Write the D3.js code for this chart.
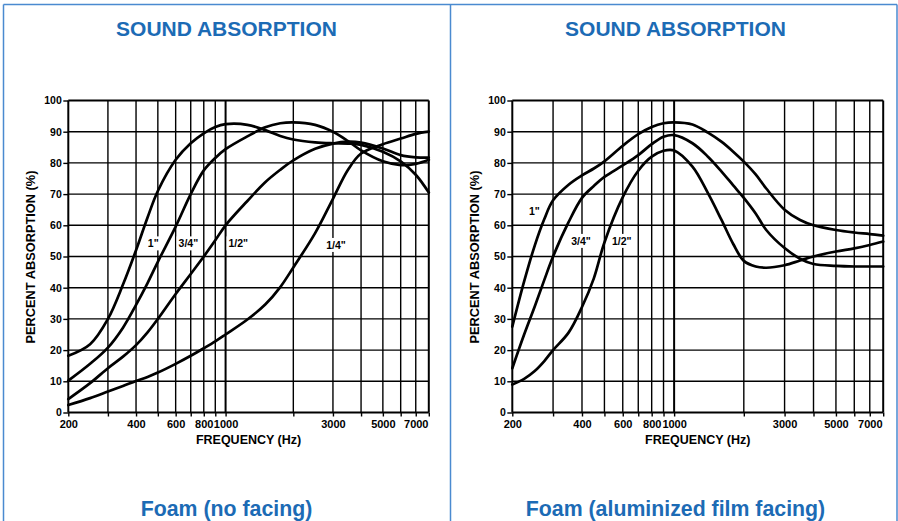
<!DOCTYPE html>
<html>
<head>
<meta charset="utf-8">
<script src="https://cdn.jsdelivr.net/npm/d3@7"></script>
<style>
  html, body { margin: 0; padding: 0; background: #fff; }
  svg { display: block; }
  text { font-family: "Liberation Sans", Arial, Helvetica, sans-serif; }
</style>
</head>
<body>
<svg id="chart" width="898" height="521"></svg>
<script>
// ---------------- DATA ----------------
const gridFreqs = [200, 300, 400, 500, 600, 700, 800, 900, 1000, 2000, 3000, 4000, 5000, 6000, 7000, 8000];
const labeledFreqs = [200, 400, 600, 800, 1000, 3000, 5000, 7000];
const percentTicks = [0, 10, 20, 30, 40, 50, 60, 70, 80, 90, 100];

const chartTitle = "SOUND ABSORPTION";
const xTitle = "FREQUENCY (Hz)";
const yTitle = "PERCENT ABSORPTION (%)";
const panelNames = ["Foam (no facing)", "Foam (aluminized film facing)"];
const seriesNamesNoFacing = ['1"', '3/4"', '1/2"', '1/4"'];
const seriesNamesFilm = ['1"', '3/4"', '1/2"'];

// Foam (no facing)
const freqNoFacing = [200, 250, 300, 350, 400, 450, 500, 600, 700, 800, 900, 1000, 1250, 1500, 1750, 2000, 2500, 3000, 3500, 4000, 5000, 6000, 7000, 8000];
const noFacing1in  = [18.2, 21.9, 30.0, 41.0, 52.0, 62.5, 71.0, 81.0, 86.3, 89.5, 91.5, 92.4, 92.2, 90.5, 88.6, 87.5, 86.6, 86.3, 86.2, 85.8, 83.6, 80.5, 76.2, 70.5];
const noFacing34in = [10.2, 15.6, 20.8, 27.2, 34.5, 41.5, 48.3, 59.6, 70.0, 77.6, 81.6, 84.4, 88.5, 91.4, 92.7, 93.0, 92.2, 90.0, 87.0, 84.0, 80.5, 79.3, 79.7, 81.0];
const noFacing12in = [4.3, 9.4, 14.2, 17.9, 21.6, 25.7, 30.0, 38.0, 44.4, 50.0, 55.2, 60.0, 67.8, 73.8, 77.8, 80.8, 84.5, 86.2, 86.8, 86.5, 84.6, 82.5, 81.8, 81.7];
const noFacing14in = [2.4, 4.6, 6.7, 8.5, 10.1, 11.4, 12.8, 15.6, 18.2, 20.6, 22.8, 25.0, 29.8, 34.6, 40.2, 46.5, 57.5, 68.5, 77.8, 83.0, 86.0, 87.8, 89.3, 90.0];

// Foam (aluminized film facing)
const freqFilm = [200, 225, 250, 275, 300, 350, 400, 450, 500, 600, 700, 800, 900, 1000, 1200, 1400, 1600, 1800, 2000, 2250, 2500, 3000, 3500, 4000, 5000, 6000, 7000, 8000];
const film1in  = [27.5, 42.0, 53.5, 62.0, 68.0, 73.0, 76.0, 78.2, 80.5, 85.5, 89.2, 91.5, 92.7, 93.0, 92.3, 89.7, 86.8, 83.6, 80.4, 76.3, 71.8, 65.0, 61.7, 60.0, 58.5, 57.7, 57.2, 56.7];
const film34in = [14.2, 25.0, 34.0, 42.5, 50.0, 61.0, 68.8, 72.6, 75.5, 79.2, 82.5, 86.0, 88.4, 88.9, 86.3, 82.0, 77.3, 72.8, 68.8, 63.8, 58.5, 52.7, 49.3, 47.6, 47.0, 46.8, 46.8, 46.8];
const film12in = [9.0, 10.8, 13.3, 16.5, 20.0, 25.6, 33.8, 43.0, 54.5, 69.0, 77.5, 82.0, 83.9, 84.0, 78.8, 70.3, 61.8, 54.0, 48.6, 46.8, 46.4, 47.2, 48.7, 50.0, 51.6, 52.6, 53.7, 54.8];

// ---------------- DRAWING ----------------
const svg = d3.select("#chart");
const blue = "#1c6bb5";
const borderBlue = "#4a8ad0";

// frame borders
svg.append("line").attr("x1", 3.5).attr("x2", 3.5).attr("y1", 4.5).attr("y2", 521).attr("stroke", borderBlue).attr("stroke-width", 1.5);
svg.append("line").attr("x1", 3.5).attr("x2", 897).attr("y1", 4.5).attr("y2", 4.5).attr("stroke", borderBlue).attr("stroke-width", 1.5);
svg.append("line").attr("x1", 450.5).attr("x2", 450.5).attr("y1", 4.5).attr("y2", 521).attr("stroke", borderBlue).attr("stroke-width", 1.5);
svg.append("line").attr("x1", 897).attr("x2", 897).attr("y1", 4.5).attr("y2", 521).attr("stroke", borderBlue).attr("stroke-width", 1.5);

const panels = [
  {
    name: panelNames[0], left: 68.3, right: 428.8, center: 226.5,
    freqs: freqNoFacing,
    series: [noFacing1in, noFacing34in, noFacing12in, noFacing14in],
    names: seriesNamesNoFacing,
    labelAt: [[477, 54.2], [683, 54.2], [1139, 54.2], [3097, 53.7]]
  },
  {
    name: panelNames[1], left: 512.3, right: 883.2, center: 675.5,
    freqs: freqFilm,
    series: [film1in, film34in, film12in],
    names: seriesNamesFilm,
    labelAt: [[249, 64.4], [396, 55.0], [594, 55.0]]
  }
];

const plotTop = 100.5, plotBottom = 412.5;

panels.forEach(p => {
  const g = svg.append("g");
  const x = d3.scaleLog().domain([200, 8000]).range([p.left, p.right]);
  const y = d3.scaleLinear().domain([0, 100]).range([plotBottom, plotTop]);

  // titles
  g.append("text").attr("x", p.center).attr("y", 35.5).attr("text-anchor", "middle")
    .attr("font-size", 21).attr("font-weight", "bold").attr("fill", blue).text(chartTitle);
  g.append("text").attr("x", p.center).attr("y", 516).attr("text-anchor", "middle")
    .attr("font-size", 21.3).attr("font-weight", "bold").attr("fill", blue).text(p.name);

  // grid
  const grid = g.append("g");
  gridFreqs.forEach(f => {
    const edge = (f === 200 || f === 8000 || f === 1000);
    grid.append("line").attr("x1", x(f)).attr("x2", x(f)).attr("y1", plotTop).attr("y2", plotBottom)
      .attr("stroke", "#000").attr("stroke-width", edge ? 2 : 1.4);
  });
  percentTicks.forEach(v => {
    const edge = (v === 0 || v === 100);
    grid.append("line").attr("x1", p.left).attr("x2", p.right).attr("y1", y(v)).attr("y2", y(v))
      .attr("stroke", "#000").attr("stroke-width", edge ? 2 : 1.4);
  });

  // axes
  const xAxis = d3.axisBottom(x).tickValues(gridFreqs).tickSize(4).tickPadding(4)
    .tickFormat(d => labeledFreqs.includes(d) ? String(d) : "");
  const xa = g.append("g").attr("transform", `translate(0,${plotBottom})`).call(xAxis);
  xa.select(".domain").remove();
  xa.selectAll(".tick line").attr("stroke", "#000").attr("stroke-width", 1.4);
  xa.selectAll(".tick text").attr("font-size", 11).attr("font-weight", "bold").attr("fill", "#000")
    .attr("font-family", '"Liberation Sans", Arial, sans-serif');

  const yAxis = d3.axisLeft(y).tickValues(percentTicks).tickSize(5).tickPadding(1.5);
  const ya = g.append("g").attr("transform", `translate(${p.left},0)`).call(yAxis);
  ya.select(".domain").remove();
  ya.selectAll(".tick line").attr("stroke", "#000").attr("stroke-width", 1.4);
  ya.selectAll(".tick text").attr("font-size", 10.5).attr("font-weight", "bold").attr("fill", "#000")
    .attr("font-family", '"Liberation Sans", Arial, sans-serif');

  // axis titles
  g.append("text").attr("x", (p.left + p.right) / 2).attr("y", 444.3).attr("text-anchor", "middle")
    .attr("font-size", 12.5).attr("font-weight", "bold").attr("fill", "#000").text(xTitle);
  g.append("text").attr("transform", `translate(${p.left - 33.8},${(plotTop + plotBottom) / 2 + 0.5}) rotate(-90)`)
    .attr("text-anchor", "middle").attr("font-size", 12.8).attr("font-weight", "bold").attr("fill", "#000").text(yTitle);

  // series labels with white backgrounds
  p.names.forEach((n, i) => {
    const [lf, lv] = p.labelAt[i];
    const lg = g.append("g").attr("transform", `translate(${x(lf)},${y(lv)})`);
    const t = lg.append("text").attr("text-anchor", "middle").attr("dy", "0.36em")
      .attr("font-size", 10.5).attr("font-weight", "bold").attr("fill", "#000").text(n);
    const bb = t.node().getBBox();
    lg.insert("rect", "text").attr("x", bb.x - 2).attr("y", -7).attr("width", bb.width + 4).attr("height", 14).attr("fill", "#fff");
  });

  // curves
  const line = d3.line().x(d => x(d[0])).y(d => y(d[1])).curve(d3.curveCatmullRom.alpha(0.5));
  p.series.forEach(vals => {
    const pts = p.freqs.map((f, i) => [f, vals[i]]);
    g.append("path").attr("d", line(pts)).attr("fill", "none").attr("stroke", "#000")
      .attr("stroke-width", 2.7).attr("stroke-linejoin", "round").attr("stroke-linecap", "round");
  });
});
</script>
</body>
</html>
